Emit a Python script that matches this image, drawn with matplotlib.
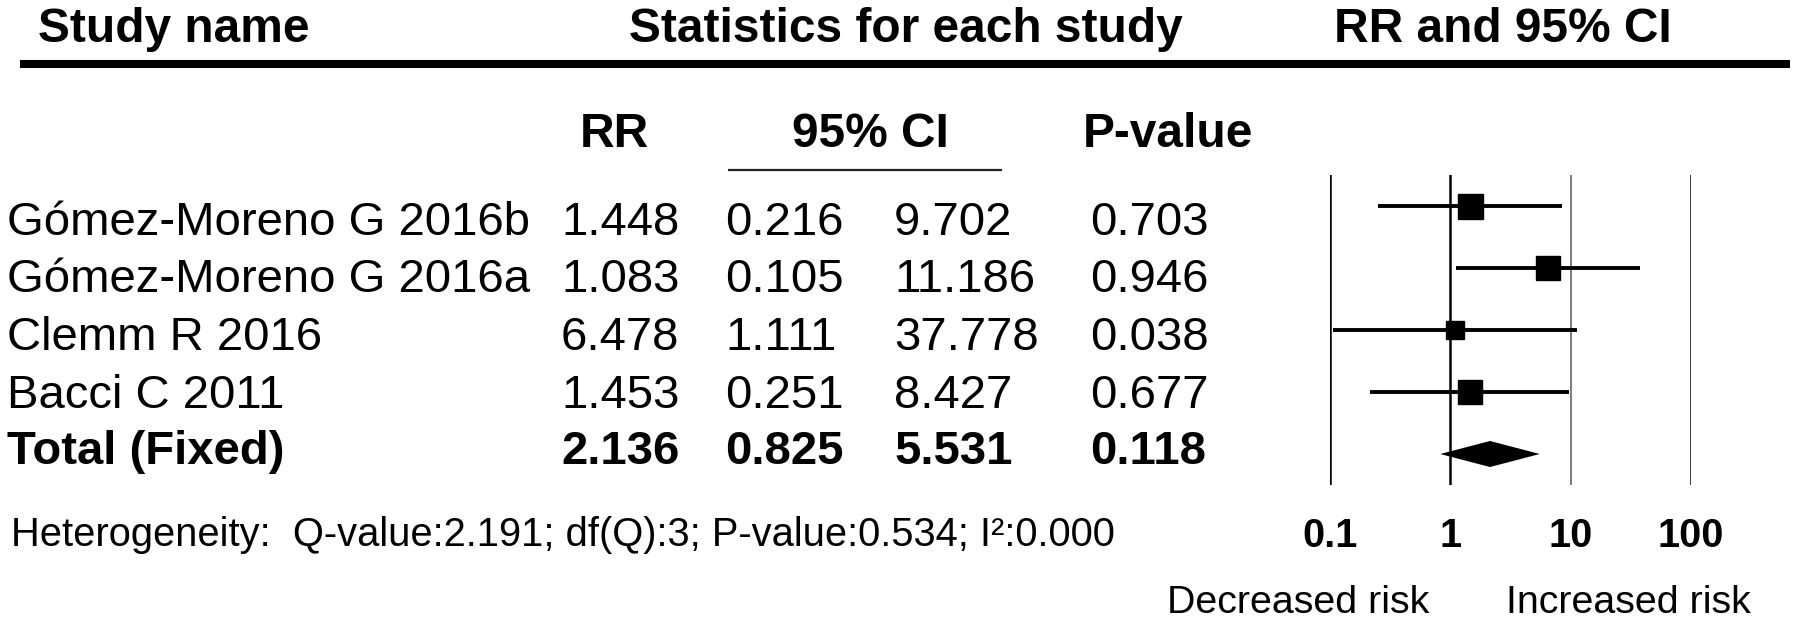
import matplotlib
matplotlib.use("Agg")
import matplotlib.pyplot as plt
import numpy as np

plt.rcParams['font.family'] = ['Liberation Sans', 'DejaVu Sans']

# ---------------- data ----------------
studies = ["Gómez-Moreno G 2016b", "Gómez-Moreno G 2016a", "Clemm R 2016", "Bacci C 2011"]
rr = [1.448, 1.083, 6.478, 1.453]
ci_low = [0.216, 0.105, 1.111, 0.251]
ci_high = [9.702, 11.186, 37.778, 8.427]
p_values = [0.703, 0.946, 0.038, 0.677]

total_label = "Total (Fixed)"
total_rr = 2.136
total_low = 0.825
total_high = 5.531
total_p = 0.118

het_q = 2.191
het_df = 3
het_p = 0.534
het_i2 = 0.000

axis_ticks = [0.1, 1, 10, 100]
axis_tick_labels = ["0.1", "1", "10", "100"]

# ---------------- figure ----------------
W, H = 1800, 621
fig = plt.figure(figsize=(W / 100, H / 100), dpi=100)
bg = fig.add_axes([0, 0, 1, 1])
bg.set_xlim(0, W)
bg.set_ylim(H, 0)
bg.axis('off')

FS = 34
HFS = 34.5

# headers
bg.text(38, 42, "Study name", fontsize=HFS, fontweight='bold', ha='left', va='baseline')
bg.text(906, 42, "Statistics for each study", fontsize=HFS, fontweight='bold', ha='center', va='baseline')
bg.text(1503, 42, "RR and 95% CI", fontsize=HFS, fontweight='bold', ha='center', va='baseline')
bg.plot([20, 1790], [64, 64], color='black', lw=5.8, solid_capstyle='butt')

bg.text(614, 147, "RR", fontsize=HFS, fontweight='bold', ha='center', va='baseline')
bg.text(870, 147, "95% CI", fontsize=HFS, fontweight='bold', ha='center', va='baseline')
bg.text(1168, 147, "P-value", fontsize=HFS, fontweight='bold', ha='center', va='baseline')
bg.plot([728, 1002], [170, 170], color='#222222', lw=1.6, solid_capstyle='butt')

# table rows
col_name, col_rr, col_lo, col_hi, col_p = 7, 561, 725, 894, 1090
row_base = [235, 292, 350, 408]
for i, name in enumerate(studies):
    y = row_base[i]
    bg.text(col_name, y, name, fontsize=FS, ha='left', va='baseline')
    bg.text(col_rr, y, f"{rr[i]:.3f}", fontsize=FS, ha='left', va='baseline')
    bg.text(col_lo, y, f"{ci_low[i]:.3f}", fontsize=FS, ha='left', va='baseline')
    bg.text(col_hi, y, f"{ci_high[i]:.3f}", fontsize=FS, ha='left', va='baseline')
    bg.text(col_p, y, f"{p_values[i]:.3f}", fontsize=FS, ha='left', va='baseline')

yt = 464
bg.text(col_name, yt, total_label, fontsize=FS, fontweight='bold', ha='left', va='baseline')
bg.text(col_rr, yt, f"{total_rr:.3f}", fontsize=FS, fontweight='bold', ha='left', va='baseline')
bg.text(col_lo, yt, f"{total_low:.3f}", fontsize=FS, fontweight='bold', ha='left', va='baseline')
bg.text(col_hi, yt, f"{total_high:.3f}", fontsize=FS, fontweight='bold', ha='left', va='baseline')
bg.text(col_p, yt, f"{total_p:.3f}", fontsize=FS, fontweight='bold', ha='left', va='baseline')

het = (f"Heterogeneity:  Q-value:{het_q:.3f}; df(Q):{het_df}; "
       f"P-value:{het_p:.3f}; I\u00b2:{het_i2:.3f}")
ht = bg.text(11, 546, het, fontsize=28, ha='left', va='baseline')
renderer = fig.canvas.get_renderer()
bb = ht.get_window_extent(renderer=renderer)
ht.set_fontsize(28 * 1103 / bb.width)

bg.text(1298, 613, "Decreased risk", fontsize=28.4, ha='center', va='baseline')
bg.text(1628, 613, "Increased risk", fontsize=28.4, ha='center', va='baseline')

# ---------------- forest plot ----------------
ax_left, ax_right, ax_top, ax_bot = 1330, 1691, 175, 485
ax = fig.add_axes([ax_left / W, (H - ax_bot) / H, (ax_right - ax_left) / W, (ax_bot - ax_top) / H])
ax.set_xscale('log')
ax.set_xlim(axis_ticks[0], axis_ticks[-1])
n = len(studies)
ax.set_ylim(n + 0.5, -0.5)
ax.patch.set_alpha(0)
for s in ax.spines.values():
    s.set_visible(False)
ax.set_yticks([])
ax.minorticks_off()
ax.set_xticks(axis_ticks)
ax.set_xticklabels(axis_tick_labels, fontsize=28.5, fontweight='bold')
ax.tick_params(axis='x', length=0, pad=23)

for t in axis_ticks:
    if t == 10:
        ax.axvline(t, color='#666666', lw=1.2, zorder=1)
    else:
        ax.axvline(t, color='black', lw=1.8, zorder=1)

# weights -> marker size
se = [(np.log(h) - np.log(l)) / 3.92 for l, h in zip(ci_low, ci_high)]
w = [1 / s ** 2 for s in se]
wmax = max(w)
for i in range(n):
    row = n - 1 - i  # plotted in reverse order, as in the original
    ax.plot([ci_low[i], ci_high[i]], [row, row], color='black', lw=2.8, zorder=2,
            solid_capstyle='butt')
    ms = 18.0 * np.sqrt(w[i] / wmax)
    ax.plot([rr[i]], [row], marker='s', ms=ms, color='black', mec='black', zorder=3)

dh = 0.21
ax.fill([total_low, total_rr, total_high, total_rr], [n, n - dh, n, n + dh],
        color='black', zorder=3, lw=0)

fig.savefig("out.png", dpi=100)
